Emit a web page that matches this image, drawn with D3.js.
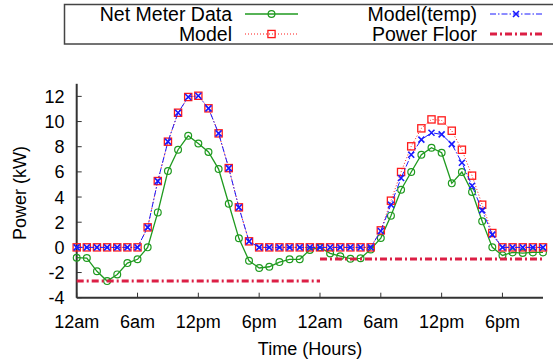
<!DOCTYPE html>
<html><head><meta charset="utf-8">
<script src="https://cdn.jsdelivr.net/npm/d3@7"></script>
<style>body{margin:0;background:#fff}svg{display:block}text{font-family:"Liberation Sans",Arial,Helvetica,sans-serif;fill:#000}</style>
</head><body><svg id="c" width="553" height="360"></svg>
<script>
const hours = d3.range(0, 47);
const netMeter = [-0.82,-0.85,-1.9,-2.68,-2.15,-1.25,-0.95,0.0,2.78,6.07,7.76,8.87,8.26,7.58,6.22,3.47,0.72,-1.06,-1.64,-1.54,-1.17,-0.95,-0.95,-0.2,0.0,
  -0.48,-0.7,-0.9,-0.87,-0.16,0.74,2.52,4.58,5.99,7.36,7.92,7.52,5.09,5.99,4.40,2.07,0.0,-0.64,-0.40,-0.45,-0.40,-0.40];
const model = [0,0,0,0,0,0,0,1.59,5.27,8.40,10.70,11.95,12.05,11.05,9.06,6.30,3.18,0.48,0,0,0,0,0,0,0,
  0,0,0,0,0,1.35,3.71,5.99,8.03,9.46,10.17,10.09,9.27,7.76,5.70,3.39,1.14,0,0,0,0,0];
const modelTemp = [0,0,0,0,0,0,0,1.59,5.27,8.40,10.70,11.95,12.05,11.05,9.06,6.30,3.18,0.48,0,0,0,0,0,0,0,
  0,0,0,0,0,1.30,3.39,5.51,7.36,8.56,9.11,8.98,8.21,6.73,4.90,2.94,1.01,0,0,0,0,0];
const floorSpans = [[0,24],[24,46]];
const floorValues = [-2.67,-0.92];
const xTickValues = [0,6,12,18,24,30,36,42];
const xTickLabels = ["12am","6am","12pm","6pm","12am","6am","12pm","6pm"];
const yTickValues = [-4,-2,0,2,4,6,8,10,12];
const legendNames = ["Net Meter Data","Model","Model(temp)","Power Floor"];

const svg = d3.select("#c");
const x = d3.scaleLinear().domain([0,46]).range([76.7,543]);
const y = d3.scaleLinear().domain([-4,13]).range([297.7,83.8]);

const C = {green:"#1f9a1f", red:"#ff1a1a", blue:"#1a1aff", floor:"#dc1f45"};

// axes
const axG = svg.append("g");
axG.append("line").attr("x1",x(0)).attr("x2",x(46)).attr("y1",y(-4)).attr("y2",y(-4)).attr("stroke","#333").attr("stroke-width",2);
axG.append("line").attr("x1",x(0)).attr("x2",x(0)).attr("y1",y(-4)).attr("y2",y(13)).attr("stroke","#333").attr("stroke-width",2);
xTickValues.forEach((t,i)=>{
  axG.append("line").attr("x1",x(t)).attr("x2",x(t)).attr("y1",y(-4)).attr("y2",y(-4)-5).attr("stroke","#333").attr("stroke-width",1);
  axG.append("text").attr("x",x(t)).attr("y",327.5).attr("text-anchor","middle").attr("font-size",18).text(xTickLabels[i]);
});
yTickValues.forEach(t=>{
  axG.append("line").attr("x1",x(0)).attr("x2",x(0)+5).attr("y1",y(t)).attr("y2",y(t)).attr("stroke","#333").attr("stroke-width",1);
  axG.append("text").attr("x",64.5).attr("y",y(t)).attr("dy","0.36em").attr("text-anchor","end").attr("font-size",18).text(t);
});
svg.append("text").attr("x",310).attr("y",355).attr("text-anchor","middle").attr("font-size",18).text("Time (Hours)");
svg.append("text").attr("transform","translate(26,193) rotate(-90)").attr("text-anchor","middle").attr("font-size",18).text("Power (kW)");

const line = d3.line().x((d,i)=>x(hours[i])).y(d=>y(d));
const plot = svg.append("g");

function circ(g, cx, cy){ g.append("circle").attr("cx",cx).attr("cy",cy).attr("r",3.4).attr("fill","none").attr("stroke",C.green).attr("stroke-width",1.2); }
function sq(g, cx, cy){ g.append("rect").attr("x",cx-3.6).attr("y",cy-3.6).attr("width",7.2).attr("height",7.2).attr("fill","none").attr("stroke",C.red).attr("stroke-width",1.3); }
function cross(g, cx, cy){ const s=3; g.append("path").attr("d",`M${cx-s},${cy-s}L${cx+s},${cy+s}M${cx-s},${cy+s}L${cx+s},${cy-s}`).attr("stroke",C.blue).attr("stroke-width",1.6); }

// Net meter
plot.append("path").attr("d",line(netMeter)).attr("fill","none").attr("stroke",C.green).attr("stroke-width",1.3);
netMeter.forEach((v,i)=>circ(plot,x(hours[i]),y(v)));
// Model
plot.append("path").attr("d",line(model)).attr("fill","none").attr("stroke",C.red).attr("stroke-width",1).attr("stroke-dasharray","1,2");
model.forEach((v,i)=>sq(plot,x(hours[i]),y(v)));
// Model(temp)
plot.append("path").attr("d",line(modelTemp)).attr("fill","none").attr("stroke",C.blue).attr("stroke-width",1).attr("stroke-dasharray","6,2,1.5,2");
modelTemp.forEach((v,i)=>cross(plot,x(hours[i]),y(v)));
// Power floor
floorSpans.forEach((s,i)=>{
  plot.append("line").attr("x1",x(s[0])).attr("x2",x(s[1])).attr("y1",y(floorValues[i])).attr("y2",y(floorValues[i]))
    .attr("stroke",C.floor).attr("stroke-width",3).attr("stroke-dasharray","7,3,2,3");
});

// legend
const lg = svg.append("g");
lg.append("rect").attr("x",64.5).attr("y",4.5).attr("width",520).attr("height",39.5).attr("fill","none").attr("stroke","#444").attr("stroke-width",1.5);
const cols = [{tx:232,l1:245,l2:298},{tx:477,l1:490,l2:542}];
const rows = [14,34];
legendNames.forEach((n,i)=>{
  const c = cols[Math.floor(i/2)], r = rows[i%2];
  lg.append("text").attr("x",c.tx).attr("y",r).attr("dy","0.36em").attr("text-anchor","end").attr("font-size",19.5).text(n);
  const mx=(c.l1+c.l2)/2;
  const ln = lg.append("line").attr("x1",c.l1).attr("x2",c.l2).attr("y1",r).attr("y2",r);
  if(i===0){ ln.attr("stroke",C.green).attr("stroke-width",1.3); circ(lg,mx,r); }
  if(i===1){ ln.attr("stroke",C.red).attr("stroke-width",1).attr("stroke-dasharray","1,2"); sq(lg,mx,r); }
  if(i===2){ ln.attr("stroke",C.blue).attr("stroke-width",1).attr("stroke-dasharray","6,2,1.5,2"); cross(lg,mx,r); }
  if(i===3){ ln.attr("stroke",C.floor).attr("stroke-width",3).attr("stroke-dasharray","7,3,2,3"); }
});
</script></body></html>
